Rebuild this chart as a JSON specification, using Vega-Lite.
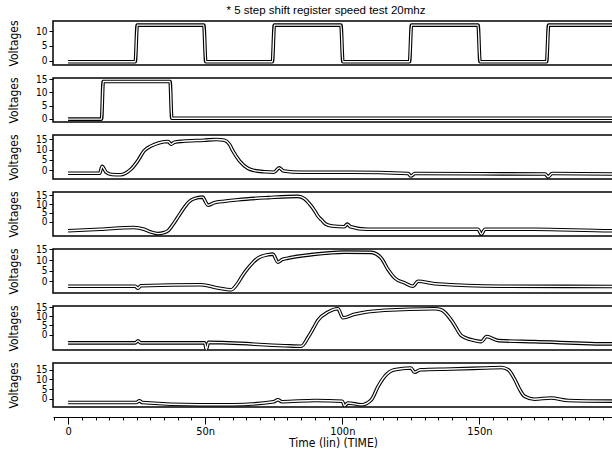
{
  "$schema": "https://vega.github.io/schema/vega-lite/v6.json",
  "padding": {"left": 6, "top": 4, "right": 0, "bottom": 0},
  "bounds": "flush",
  "title": {"text": "* 5 step shift register speed test 20mhz", "fontSize": 11.5, "fontWeight": "normal", "font": "Liberation Sans", "offset": 3, "anchor": "middle", "frame": "group", "dx": -7},
  "config": {
    "view": {"stroke": "black", "strokeWidth": 1.5},
    "axis": {"labelFont": "DejaVu Sans Condensed, Liberation Sans", "titleFont": "DejaVu Sans Condensed, Liberation Sans", "labelFontSize": 11, "titleFontSize": 12, "titleFontWeight": "normal", "labelColor": "black", "titleColor": "black", "tickColor": "black", "domainColor": "black", "grid": false},
    "axisY": {"titleX": -40, "titleY": 22, "titleAngle": -90, "titleAlign": "center", "titleBaseline": "middle", "labelPadding": 2, "labelFontSize": 10, "domain": false}
  },
  "data": {"values": [
    {"p":1,"t":0,"v":-0.4},{"p":1,"t":24.5,"v":-0.4},{"p":1,"t":25.2,"v":12.1},{"p":1,"t":49.5,"v":12.1},{"p":1,"t":50.2,"v":-0.4},{"p":1,"t":74.5,"v":-0.4},{"p":1,"t":75.2,"v":12.1},{"p":1,"t":99.5,"v":12.1},{"p":1,"t":100.2,"v":-0.4},{"p":1,"t":124.5,"v":-0.4},{"p":1,"t":125.2,"v":12.1},{"p":1,"t":149.5,"v":12.1},{"p":1,"t":150.2,"v":-0.4},{"p":1,"t":174.5,"v":-0.4},{"p":1,"t":175.2,"v":12.1},{"p":1,"t":200,"v":12.1},
    {"p":2,"t":0,"v":-0.1},{"p":2,"t":12.2,"v":-0.1},{"p":2,"t":12.8,"v":14.2},{"p":2,"t":37.2,"v":14.2},{"p":2,"t":37.8,"v":0.2},{"p":2,"t":200,"v":0.2},
    {"p":3,"t":0,"v":-1.57},{"p":3,"t":11.5,"v":-1.57},{"p":3,"t":12.4,"v":1.82},{"p":3,"t":13.9,"v":-1.09},{"p":3,"t":16,"v":-2.18},{"p":3,"t":19,"v":-2.3},{"p":3,"t":21,"v":-1.45},{"p":3,"t":23,"v":0.49},{"p":3,"t":25.4,"v":4.49},{"p":3,"t":27.7,"v":9.34},{"p":3,"t":30.3,"v":11.76},{"p":3,"t":33,"v":13.22},{"p":3,"t":35,"v":13.83},{"p":3,"t":36.5,"v":13.95},{"p":3,"t":37.6,"v":12.61},{"p":3,"t":38.8,"v":13.58},{"p":3,"t":42,"v":14.07},{"p":3,"t":49.6,"v":14.55},{"p":3,"t":54,"v":14.92},{"p":3,"t":57,"v":14.55},{"p":3,"t":58.8,"v":12.61},{"p":3,"t":60.1,"v":9.34},{"p":3,"t":62.5,"v":4.49},{"p":3,"t":65.6,"v":0.85},{"p":3,"t":68,"v":-0.24},{"p":3,"t":71.7,"v":-0.85},{"p":3,"t":75,"v":-1.09},{"p":3,"t":77,"v":1.09},{"p":3,"t":78.6,"v":-0.48},{"p":3,"t":85,"v":-1.09},{"p":3,"t":103,"v":-1.09},{"p":3,"t":124,"v":-1.7},{"p":3,"t":125,"v":-2.91},{"p":3,"t":126.5,"v":-1.7},{"p":3,"t":150,"v":-1.82},{"p":3,"t":174,"v":-1.94},{"p":3,"t":175,"v":-3.27},{"p":3,"t":176.5,"v":-1.7},{"p":3,"t":200,"v":-1.94},
    {"p":4,"t":0,"v":-5.14},{"p":4,"t":11.8,"v":-4.27},{"p":4,"t":24,"v":-3.26},{"p":4,"t":27.7,"v":-4.27},{"p":4,"t":30,"v":-5.72},{"p":4,"t":32.7,"v":-6.73},{"p":4,"t":35,"v":-6.15},{"p":4,"t":36.4,"v":-5.14},{"p":4,"t":38,"v":-2.1},{"p":4,"t":40,"v":2.54},{"p":4,"t":42.4,"v":8.18},{"p":4,"t":44,"v":11.22},{"p":4,"t":46,"v":13.11},{"p":4,"t":49.1,"v":13.97},{"p":4,"t":50,"v":11.66},{"p":4,"t":51,"v":9.34},{"p":4,"t":53.3,"v":10.79},{"p":4,"t":57,"v":11.66},{"p":4,"t":62,"v":12.53},{"p":4,"t":73,"v":13.69},{"p":4,"t":83.8,"v":14.41},{"p":4,"t":86.2,"v":13.11},{"p":4,"t":88,"v":10.21},{"p":4,"t":89.9,"v":6.3},{"p":4,"t":91,"v":3.4},{"p":4,"t":92.5,"v":0.94},{"p":4,"t":94,"v":-1.37},{"p":4,"t":96.2,"v":-2.39},{"p":4,"t":100.7,"v":-2.82},{"p":4,"t":101.8,"v":-1.37},{"p":4,"t":103,"v":-2.82},{"p":4,"t":109,"v":-4.27},{"p":4,"t":122,"v":-4.27},{"p":4,"t":149.5,"v":-4.27},{"p":4,"t":150.7,"v":-7.17},{"p":4,"t":152,"v":-4.27},{"p":4,"t":170,"v":-4.27},{"p":4,"t":198,"v":-5.14},{"p":4,"t":200,"v":-5.14},
    {"p":5,"t":0,"v":-2.3},{"p":5,"t":24.5,"v":-2.3},{"p":5,"t":25.5,"v":-3.25},{"p":5,"t":26.5,"v":-2.07},{"p":5,"t":48.5,"v":-1.6},{"p":5,"t":54.6,"v":-3.13},{"p":5,"t":59.5,"v":-3.95},{"p":5,"t":61.9,"v":-0.77},{"p":5,"t":63.5,"v":2.53},{"p":5,"t":65.6,"v":6.18},{"p":5,"t":67.5,"v":9.01},{"p":5,"t":69.2,"v":10.89},{"p":5,"t":72.9,"v":12.54},{"p":5,"t":74.7,"v":12.78},{"p":5,"t":76.5,"v":9.01},{"p":5,"t":78,"v":10.18},{"p":5,"t":80.1,"v":10.89},{"p":5,"t":88.7,"v":12.54},{"p":5,"t":100.8,"v":13.72},{"p":5,"t":110.6,"v":13.6},{"p":5,"t":112.5,"v":12.78},{"p":5,"t":114.2,"v":10.89},{"p":5,"t":116.7,"v":5.47},{"p":5,"t":119.1,"v":1.58},{"p":5,"t":122.7,"v":-0.77},{"p":5,"t":125.8,"v":-2.3},{"p":5,"t":127.6,"v":0.05},{"p":5,"t":133.7,"v":-1.12},{"p":5,"t":158,"v":-2.3},{"p":5,"t":200,"v":-2.42},
    {"p":6,"t":0,"v":-4.54},{"p":6,"t":24.5,"v":-4.54},{"p":6,"t":25.5,"v":-3.43},{"p":6,"t":26.5,"v":-4.54},{"p":6,"t":49.8,"v":-4.54},{"p":6,"t":50.4,"v":-7.98},{"p":6,"t":51.2,"v":-4.26},{"p":6,"t":79,"v":-6.05},{"p":6,"t":85,"v":-6.33},{"p":6,"t":87.5,"v":-1.5},{"p":6,"t":89.3,"v":3.05},{"p":6,"t":91.1,"v":7.74},{"p":6,"t":94.8,"v":12.29},{"p":6,"t":98.4,"v":14.08},{"p":6,"t":100.2,"v":9.12},{"p":6,"t":104.5,"v":11.05},{"p":6,"t":115.4,"v":13.25},{"p":6,"t":133.7,"v":14.08},{"p":6,"t":136,"v":13.53},{"p":6,"t":139.8,"v":7.74},{"p":6,"t":141,"v":4.98},{"p":6,"t":143.4,"v":-0.54},{"p":6,"t":144.5,"v":-1.5},{"p":6,"t":148.3,"v":-3.29},{"p":6,"t":150.7,"v":-3.85},{"p":6,"t":152.6,"v":-1.09},{"p":6,"t":157,"v":-3.29},{"p":6,"t":170,"v":-3.85},{"p":6,"t":198,"v":-5.09},{"p":6,"t":200,"v":-5.09},
    {"p":7,"t":0,"v":-1.9},{"p":7,"t":25,"v":-1.9},{"p":7,"t":26,"v":-0.99},{"p":7,"t":27,"v":-1.9},{"p":7,"t":48,"v":-3.07},{"p":7,"t":60,"v":-3.07},{"p":7,"t":75,"v":-1.51},{"p":7,"t":76.5,"v":-0.47},{"p":7,"t":78,"v":-1.51},{"p":7,"t":90,"v":-0.86},{"p":7,"t":100,"v":-1.25},{"p":7,"t":100.8,"v":-3.59},{"p":7,"t":102,"v":-2.16},{"p":7,"t":107,"v":-3.07},{"p":7,"t":110.6,"v":-0.47},{"p":7,"t":113,"v":6.3},{"p":7,"t":115.4,"v":11.5},{"p":7,"t":119,"v":15.01},{"p":7,"t":125,"v":15.92},{"p":7,"t":126.3,"v":13.71},{"p":7,"t":128.5,"v":15.01},{"p":7,"t":139.8,"v":15.4},{"p":7,"t":151.9,"v":15.92},{"p":7,"t":158,"v":16.18},{"p":7,"t":160.5,"v":15.01},{"p":7,"t":162.9,"v":9.94},{"p":7,"t":164.7,"v":4.73},{"p":7,"t":166.5,"v":1.22},{"p":7,"t":170.1,"v":-0.21},{"p":7,"t":176,"v":0.44},{"p":7,"t":182.4,"v":-0.86},{"p":7,"t":200,"v":-1.25}
  ]},
  "spacing": 13,
  "vconcat": [
    {"width": 560, "height": 44, "transform": [{"filter": "datum.p == 1"}],
     "encoding": {"x": {"field": "t", "type": "quantitative", "scale": {"domain": [-5.5, 198.7], "nice": false, "zero": false}, "axis": null},
                  "y": {"field": "v", "type": "quantitative", "scale": {"domain": [-1.5, 13.5], "nice": false, "zero": false}, "axis": {"title": "Voltages", "values": [0, 5, 10], "labelOverlap": false, "tickSize": 4}}},
     "layer": [{"mark": {"type": "line", "color": "black", "strokeWidth": 3.6, "interpolate": "monotone", "clip": true}}, {"mark": {"type": "line", "color": "white", "strokeWidth": 1.4, "interpolate": "monotone", "clip": true}}]},
    {"width": 560, "height": 44, "transform": [{"filter": "datum.p == 2"}],
     "encoding": {"x": {"field": "t", "type": "quantitative", "scale": {"domain": [-5.5, 198.7], "nice": false, "zero": false}, "axis": null},
                  "y": {"field": "v", "type": "quantitative", "scale": {"domain": [-1.2, 15.5], "nice": false, "zero": false}, "axis": {"title": "Voltages", "values": [0, 5, 10, 15], "labelOverlap": false, "tickSize": 4}}},
     "layer": [{"mark": {"type": "line", "color": "black", "strokeWidth": 3.6, "interpolate": "monotone", "clip": true}}, {"mark": {"type": "line", "color": "white", "strokeWidth": 1.4, "interpolate": "monotone", "clip": true}}]},
    {"width": 560, "height": 44, "transform": [{"filter": "datum.p == 3"}],
     "encoding": {"x": {"field": "t", "type": "quantitative", "scale": {"domain": [-5.5, 198.7], "nice": false, "zero": false}, "axis": null},
                  "y": {"field": "v", "type": "quantitative", "scale": {"domain": [-4.35, 17.1], "nice": false, "zero": false}, "axis": {"title": "Voltages", "values": [0, 5, 10, 15], "labelOverlap": false, "tickSize": 4}}},
     "layer": [{"mark": {"type": "line", "color": "black", "strokeWidth": 3.6, "interpolate": "monotone", "clip": true}}, {"mark": {"type": "line", "color": "white", "strokeWidth": 1.4, "interpolate": "monotone", "clip": true}}]},
    {"width": 560, "height": 44, "transform": [{"filter": "datum.p == 4"}],
     "encoding": {"x": {"field": "t", "type": "quantitative", "scale": {"domain": [-5.5, 198.7], "nice": false, "zero": false}, "axis": null},
                  "y": {"field": "v", "type": "quantitative", "scale": {"domain": [-8.1, 16.9], "nice": false, "zero": false}, "axis": {"title": "Voltages", "values": [0, 5, 10, 15], "labelOverlap": false, "tickSize": 4}}},
     "layer": [{"mark": {"type": "line", "color": "black", "strokeWidth": 3.6, "interpolate": "monotone", "clip": true}}, {"mark": {"type": "line", "color": "white", "strokeWidth": 1.4, "interpolate": "monotone", "clip": true}}]},
    {"width": 560, "height": 44, "transform": [{"filter": "datum.p == 5"}],
     "encoding": {"x": {"field": "t", "type": "quantitative", "scale": {"domain": [-5.5, 198.7], "nice": false, "zero": false}, "axis": null},
                  "y": {"field": "v", "type": "quantitative", "scale": {"domain": [-5.5, 15.2], "nice": false, "zero": false}, "axis": {"title": "Voltages", "values": [0, 5, 10, 15], "labelOverlap": false, "tickSize": 4}}},
     "layer": [{"mark": {"type": "line", "color": "black", "strokeWidth": 3.6, "interpolate": "monotone", "clip": true}}, {"mark": {"type": "line", "color": "white", "strokeWidth": 1.4, "interpolate": "monotone", "clip": true}}]},
    {"width": 560, "height": 44, "transform": [{"filter": "datum.p == 6"}],
     "encoding": {"x": {"field": "t", "type": "quantitative", "scale": {"domain": [-5.5, 198.7], "nice": false, "zero": false}, "axis": null},
                  "y": {"field": "v", "type": "quantitative", "scale": {"domain": [-8.4, 15.55], "nice": false, "zero": false}, "axis": {"title": "Voltages", "values": [0, 5, 10, 15], "labelOverlap": false, "tickSize": 4}}},
     "layer": [{"mark": {"type": "line", "color": "black", "strokeWidth": 3.6, "interpolate": "monotone", "clip": true}}, {"mark": {"type": "line", "color": "white", "strokeWidth": 1.4, "interpolate": "monotone", "clip": true}}]},
    {"width": 560, "height": 44, "transform": [{"filter": "datum.p == 7"}],
     "encoding": {"x": {"field": "t", "type": "quantitative", "scale": {"domain": [-5.5, 198.7], "nice": false, "zero": false},
                        "axis": {"values": [-5, 0, 5, 10, 15, 20, 25, 30, 35, 40, 45, 50, 55, 60, 65, 70, 75, 80, 85, 90, 95, 100, 105, 110, 115, 120, 125, 130, 135, 140, 145, 150, 155, 160, 165, 170, 175, 180, 185, 190, 195],
                                 "labelExpr": "datum.value % 50 === 0 ? (datum.value === 0 ? '0' : datum.value + 'n') : ''",
                                 "tickSize": {"condition": {"test": "datum.value % 50 === 0", "value": 7}, "value": 3},
                                 "offset": 10, "title": "Time (lin) (TIME)", "titlePadding": 1, "labelPadding": 1, "labelFlush": false, "labelOverlap": false}},
                  "y": {"field": "v", "type": "quantitative", "scale": {"domain": [-4.25, 18.5], "nice": false, "zero": false}, "axis": {"title": "Voltages", "values": [0, 5, 10, 15], "labelOverlap": false, "tickSize": 4}}},
     "layer": [{"mark": {"type": "line", "color": "black", "strokeWidth": 3.6, "interpolate": "monotone", "clip": true}}, {"mark": {"type": "line", "color": "white", "strokeWidth": 1.4, "interpolate": "monotone", "clip": true}}]}
  ]
}
